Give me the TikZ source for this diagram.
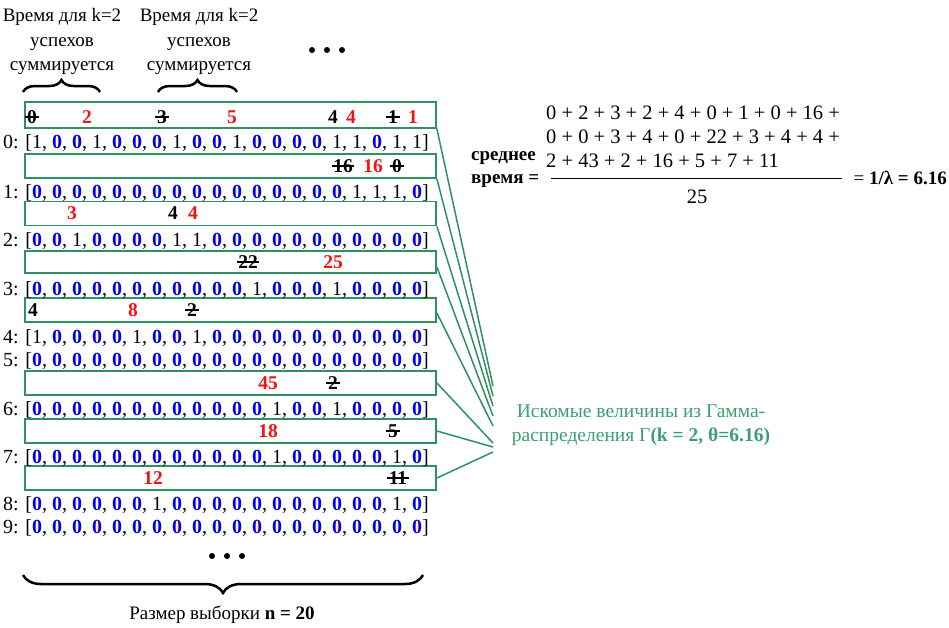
\documentclass[tikz,border=0pt]{standalone}
\usepackage{fontspec}
\setmainfont{Liberation Serif}
\usetikzlibrary{decorations.pathreplacing}
\definecolor{gbox}{RGB}{46,145,95}
\definecolor{gtext}{RGB}{60,160,110}
\definecolor{zblue}{RGB}{0,0,235}
\definecolor{zred}{RGB}{240,20,20}
\newcommand\zb{{\bfseries\color{zblue}0}}
\begin{document}
\begin{tikzpicture}[x=1pt,y=-1pt,
  row/.style={anchor=base west, inner sep=0pt, font=\fontsize{20}{24}\selectfont},
  numbox/.style={draw=gbox, line width=1.8pt, minimum width=411pt, minimum height=24pt, inner sep=0pt},
  lab/.style={inner xsep=1.5pt, inner ysep=0pt, font=\fontsize{19.5}{22}\selectfont\bfseries},
  redlab/.style={lab, text=zred},
  strk/.style={lab, append after command={(\tikzlastnode.west) edge[line width=1.1pt] (\tikzlastnode.east)}},
  conn/.style={draw=gbox, line width=1.5pt},
  toptxt/.style={anchor=base, inner sep=0pt, font=\fontsize{19}{23}\selectfont},
  fml/.style={anchor=base west, inner sep=0pt, font=\fontsize{20.5}{24}\selectfont},
  fmlb/.style={inner sep=0pt, font=\fontsize{19}{23}\selectfont\bfseries},
  gtxt/.style={anchor=base, inner sep=0pt, text=gtext, font=\fontsize{19.5}{23}\selectfont},
  brc/.style={decorate, line width=2.5pt},
  dot/.style={fill=black, circle, inner sep=0pt, minimum size=6pt}]
\useasboundingbox (0,0) rectangle (949,627);

% top texts
\node[toptxt] (ta1) at (62,21) {Время для k=2};
\node[toptxt] (ta2) at (62,46) {успехов};
\node[toptxt] (ta3) at (62,70) {суммируется};
\node[toptxt] (tb1) at (199,21) {Время для k=2};
\node[toptxt] (tb2) at (199,46) {успехов};
\node[toptxt] (tb3) at (199,70) {суммируется};
\draw[brc, decoration={brace, amplitude=12pt}] (23,92) -- (100,92);
\draw[brc, decoration={brace, amplitude=12pt}] (158,92) -- (237,92);
\node[dot] (d1) at (312,50) {};
\node[dot] (d2) at (327,50) {};
\node[dot] (d3) at (342,50) {};

% boxes
\node[numbox, minimum height=26pt] (b1) at (230.5,115) {};
\node[numbox] (b2) at (230.5,166) {};
\node[numbox] (b3) at (230.5,213.5) {};
\node[numbox, minimum height=22pt] (b4) at (230.5,262) {};
\node[numbox] (b5) at (230.5,310) {};
\node[numbox] (b6) at (230.5,383) {};
\node[numbox] (b7) at (230.5,431) {};
\node[numbox] (b8) at (230.5,478) {};

% rows
\node[row] (r0) at (3,148) {0: [1, \zb, \zb, 1, \zb, \zb, \zb, 1, \zb, \zb, 1, \zb, \zb, \zb, \zb, 1, 1, \zb, 1, 1]};
\node[row] (r1) at (3,198) {1: [\zb, \zb, \zb, \zb, \zb, \zb, \zb, \zb, \zb, \zb, \zb, \zb, \zb, \zb, \zb, \zb, 1, 1, 1, \zb]};
\node[row] (r2) at (3,246) {2: [\zb, \zb, 1, \zb, \zb, \zb, \zb, 1, 1, \zb, \zb, \zb, \zb, \zb, \zb, \zb, \zb, \zb, \zb, \zb]};
\node[row] (r3) at (3,295) {3: [\zb, \zb, \zb, \zb, \zb, \zb, \zb, \zb, \zb, \zb, \zb, 1, \zb, \zb, \zb, 1, \zb, \zb, \zb, \zb]};
\node[row] (r4) at (3,343) {4: [1, \zb, \zb, \zb, \zb, 1, \zb, \zb, 1, \zb, \zb, \zb, \zb, \zb, \zb, \zb, \zb, \zb, \zb, \zb]};
\node[row] (r5) at (3,366) {5: [\zb, \zb, \zb, \zb, \zb, \zb, \zb, \zb, \zb, \zb, \zb, \zb, \zb, \zb, \zb, \zb, \zb, \zb, \zb, \zb]};
\node[row] (r6) at (3,415) {6: [\zb, \zb, \zb, \zb, \zb, \zb, \zb, \zb, \zb, \zb, \zb, \zb, 1, \zb, \zb, 1, \zb, \zb, \zb, \zb]};
\node[row] (r7) at (3,463) {7: [\zb, \zb, \zb, \zb, \zb, \zb, \zb, \zb, \zb, \zb, \zb, \zb, 1, \zb, \zb, \zb, \zb, \zb, 1, \zb]};
\node[row] (r8) at (3,510) {8: [\zb, \zb, \zb, \zb, \zb, \zb, 1, \zb, \zb, \zb, \zb, \zb, \zb, \zb, \zb, \zb, \zb, \zb, 1, \zb]};
\node[row] (r9) at (3,533) {9: [\zb, \zb, \zb, \zb, \zb, \zb, \zb, \zb, \zb, \zb, \zb, \zb, \zb, \zb, \zb, \zb, \zb, \zb, \zb, \zb]};

% box labels
\node[strk] (l11) at (32,117) {0};
\node[redlab] (l12) at (87,117) {2};
\node[strk] (l13) at (162,117) {3};
\node[redlab] (l14) at (232,117) {5};
\node[lab] (l15) at (333,117) {4};
\node[redlab] (l16) at (351,117) {4};
\node[strk] (l17) at (393,117) {1};
\node[redlab] (l18) at (413,117) {1};
\node[strk] (l21) at (343,166) {16};
\node[redlab] (l22) at (373,166) {16};
\node[strk] (l23) at (397,166) {0};
\node[redlab] (l31) at (72,213.5) {3};
\node[lab] (l32) at (173,213.5) {4};
\node[redlab] (l33) at (193,213.5) {4};
\node[strk] (l41) at (248,262) {22};
\node[redlab] (l42) at (333,262) {25};
\node[lab] (l51) at (33,310) {4};
\node[redlab] (l52) at (133,310) {8};
\node[strk] (l53) at (192,310) {2};
\node[redlab] (l61) at (268,383) {45};
\node[strk] (l62) at (333,383) {2};
\node[redlab] (l71) at (268,431) {18};
\node[strk] (l72) at (393,431) {5};
\node[redlab] (l81) at (153,478) {12};
\node[strk] (l82) at (398,478) {11};

% connectors
\coordinate (e1) at (493,386);
\coordinate (e2) at (493,396);
\coordinate (e3) at (493,406);
\coordinate (e4) at (493,416);
\coordinate (e5) at (493,426);
\coordinate (e6) at (493,443);
\coordinate (e7) at (493,447);
\coordinate (e8) at (493,452);
\draw[conn] (b1.south east) -- (e1);
\draw[conn] (b2.south east) -- (e2);
\draw[conn] (b3.south east) -- (e3);
\draw[conn] ([yshift=-5pt]b4.east) -- (e4);
\draw[conn] ([yshift=-3pt]b5.east) -- (e5);
\draw[conn] (b6.east) -- (e6);
\draw[conn] (b7.east) -- (e7);
\draw[conn] (b8.east) -- (e8);

% green text
\node[gtxt] (g1) at (641,417) {Искомые величины из Гамма-};
\node[gtxt] (g2) at (641,441) {распределения Γ\textbf{(k = 2, θ=6.16)}};

% formula
\node[fmlb, anchor=base west] (s1) at (471,160) {среднее};
\node[fmlb, anchor=base west] (s2) at (471,183) {время =};
\node[fml] (n1) at (546,119) {0 + 2 + 3 + 2 + 4 + 0 + 1 + 0 + 16 +};
\node[fml] (n2) at (546,143) {0 + 0 + 3 + 4 + 0 + 22 + 3 + 4 + 4 +};
\node[fml] (n3) at (546,167) {2 + 43 + 2 + 16 + 5 + 7 + 11};
\draw[line width=1pt] (551,178) -- (842,178);
\node[fml, anchor=base] (den) at (697,203) {25};
\node[fmlb, anchor=base east, font=\fontsize{19}{23}\selectfont] (res) at (947,184) {= \textbf{1/λ = 6.16}};

% bottom
\node[dot] (d4) at (212,556) {};
\node[dot] (d5) at (227,556) {};
\node[dot] (d6) at (242,556) {};
\draw[brc, decoration={brace, amplitude=18pt}] (423,575) -- (23,575);
\node[anchor=base, inner sep=0pt, font=\fontsize{19}{23}\selectfont] (bt) at (222,619) {Размер выборки \textbf{n = 20}};
\end{tikzpicture}
\end{document}
